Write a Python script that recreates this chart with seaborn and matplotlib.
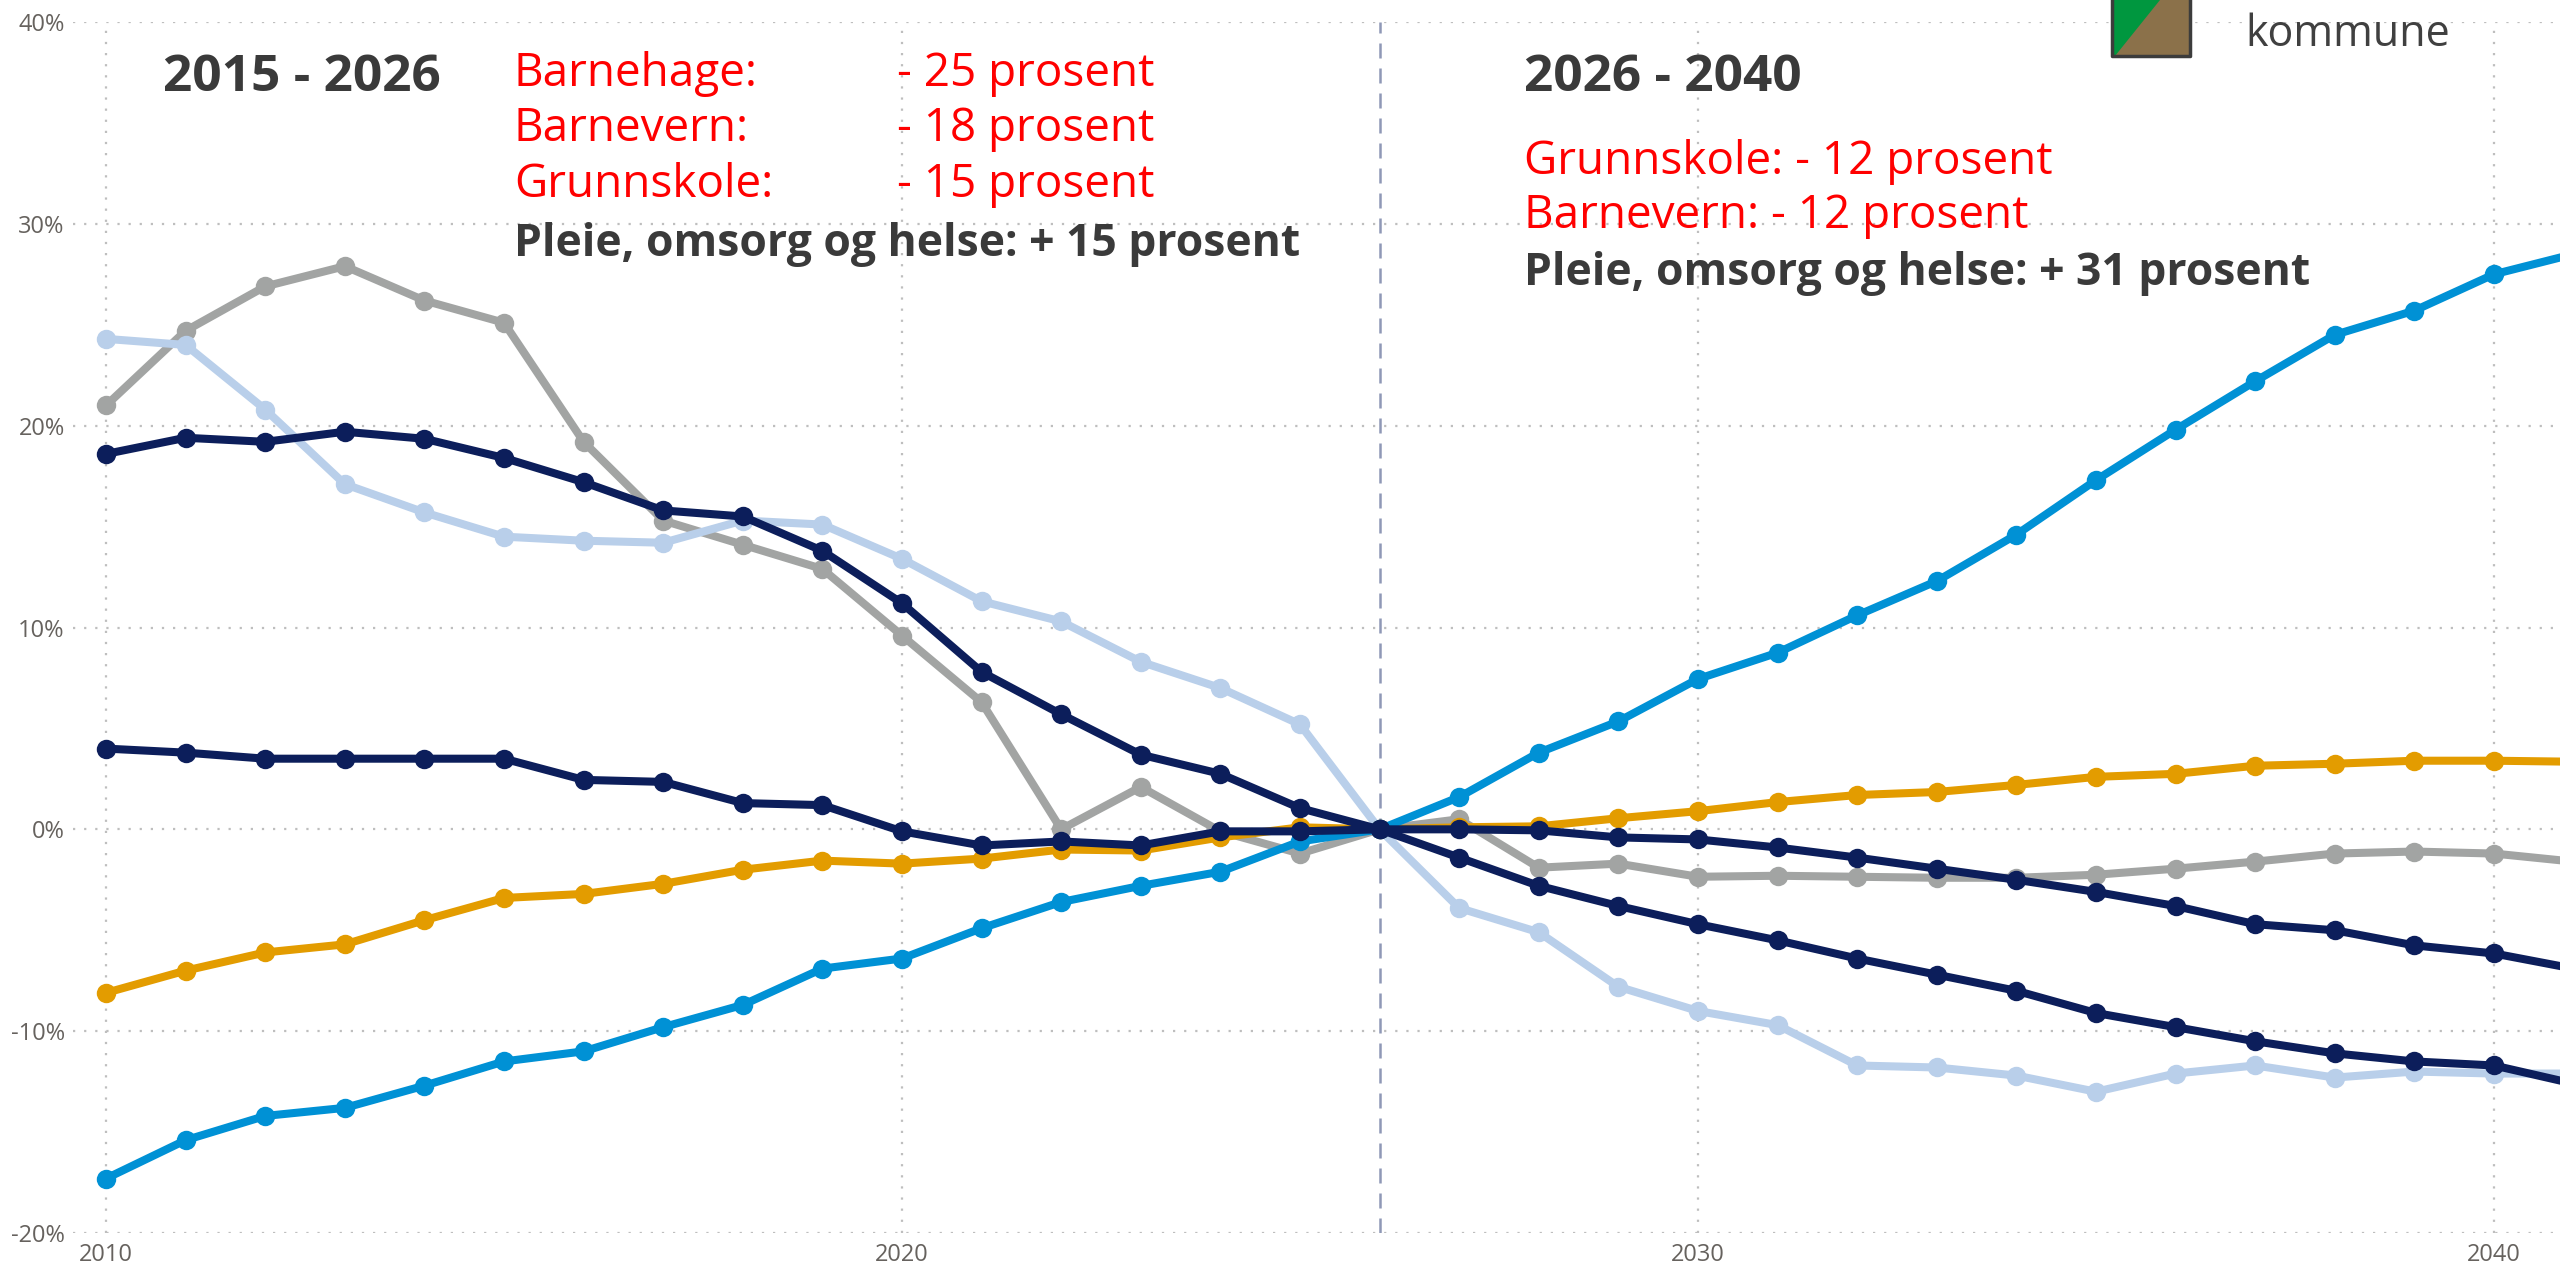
import matplotlib
matplotlib.use('Agg')
import numpy as np
import pandas as pd
import matplotlib.pyplot as plt
import seaborn as sns
from matplotlib.ticker import PercentFormatter, MultipleLocator
from matplotlib.patches import Polygon, Rectangle

# Data (prosent endring relativt til 2026), lest av figuren
aar = list(range(2010, 2042))

lysbla = [24.3, 24.0, 20.8, 17.1, 15.7, 14.5, 14.3, 14.2, 15.3, 15.1, 13.4, 11.3, 10.3, 8.3, 7.0, 5.2,
          0.0, -3.9, -5.1, -7.8, -9.0, -9.7, -11.7, -11.8, -12.2, -13.0, -12.1, -11.7, -12.3, -12.0, -12.1, -12.1]
graa = [21.0, 24.7, 26.9, 27.9, 26.2, 25.1, 19.2, 15.3, 14.1, 12.9, 9.6, 6.3, 0.0, 2.1, -0.1, -1.2,
        0.0, 0.5, -1.9, -1.7, -2.35, -2.3, -2.35, -2.4, -2.4, -2.25, -1.95, -1.6, -1.2, -1.1, -1.2, -1.6]
oransje = [-8.1, -7.0, -6.1, -5.7, -4.5, -3.4, -3.2, -2.7, -2.0, -1.55, -1.7, -1.45, -1.0, -1.05, -0.4, 0.1,
           0.0, 0.1, 0.15, 0.55, 0.9, 1.35, 1.7, 1.85, 2.2, 2.6, 2.75, 3.15, 3.25, 3.4, 3.4, 3.35]
bla = [-17.3, -15.4, -14.2, -13.8, -12.7, -11.5, -11.0, -9.8, -8.7, -6.9, -6.4, -4.9, -3.6, -2.8, -2.1, -0.6,
       0.0, 1.6, 3.8, 5.35, 7.45, 8.75, 10.6, 12.3, 14.6, 17.3, 19.8, 22.2, 24.5, 25.7, 27.5, 28.5]
marine_b = [4.0, 3.8, 3.5, 3.5, 3.5, 3.5, 2.45, 2.35, 1.3, 1.2, -0.1, -0.8, -0.6, -0.8, -0.1, -0.1,
            0.0, 0.0, -0.05, -0.4, -0.5, -0.9, -1.4, -1.95, -2.5, -3.1, -3.8, -4.7, -5.0, -5.75, -6.15, -6.9]
marine_a = [18.6, 19.4, 19.2, 19.7, 19.35, 18.4, 17.2, 15.8, 15.5, 13.8, 11.2, 7.8, 5.7, 3.7, 2.75, 1.05,
            0.0, -1.4, -2.8, -3.8, -4.7, -5.5, -6.4, -7.2, -8.0, -9.1, -9.8, -10.5, -11.1, -11.5, -11.7, -12.6]

serier = {'graa': graa, 'lysbla': lysbla, 'oransje': oransje, 'bla': bla,
          'marine_b': marine_b, 'marine_a': marine_a}
farger = {'graa': '#A2A4A3', 'lysbla': '#B9CFEA', 'oransje': '#E39C00', 'bla': '#0091D5',
          'marine_b': '#0C1E5B', 'marine_a': '#0C1E5B'}

df = pd.concat([pd.DataFrame({'aar': aar, 'endring': np.array(v) / 100, 'serie': k})
                for k, v in serier.items()])

sns.set_theme(style='white')
plt.rcParams['font.family'] = ['Open Sans', 'DejaVu Sans']
plt.rcParams['axes.unicode_minus'] = False

W, H = 2560, 1274
fig = plt.figure(figsize=(W / 100, H / 100), dpi=100)
ax = fig.add_axes([73 / W, (H - 1233) / H, (W - 73) / W, (1233 - 22) / H])

sns.lineplot(data=df, x='aar', y='endring', hue='serie', hue_order=list(serier.keys()),
             palette=farger, marker='o', markersize=14, markeredgewidth=0,
             linewidth=5.8, legend=False, ax=ax)

# vertikal stiplet linje ved 2026
ax.axvline(2026, color='#8F98B6', linestyle=(0, (6, 4)), linewidth=1.8, zorder=1)

ax.set_xlim(2009.585, 2040.83)
ax.set_ylim(-0.2, 0.4)
ax.xaxis.set_major_locator(MultipleLocator(10))
ax.yaxis.set_major_locator(MultipleLocator(0.1))
ax.yaxis.set_major_formatter(PercentFormatter(1.0, decimals=0))
ax.set_xlabel('')
ax.set_ylabel('')
ax.grid(True, color='#BEBEBE', linestyle=(0, (1, 4)), linewidth=1.6)
ax.set_axisbelow(True)
for s in ax.spines.values():
    s.set_visible(False)
ax.tick_params(axis='both', length=0, labelsize=17, labelcolor='#66625E')
ax.tick_params(axis='y', pad=6)
ax.tick_params(axis='x', pad=7)


def ftekst(x, y, s, **kw):
    fig.text(x / W, 1 - y / H, s, va='baseline', ha='left', **kw)


rod = '#FF0000'
mork = '#3A3A3A'

# venstre tekstblokk
ftekst(163, 91, '2015 - 2026', fontsize=37, fontweight='bold', color=mork)
for y, navn, verdi in [(86, 'Barnehage:', '- 25 prosent'),
                       (141, 'Barnevern:', '- 18 prosent'),
                       (197, 'Grunnskole:', '- 15 prosent')]:
    ftekst(514, y, navn, fontsize=33, color=rod)
    ftekst(897, y, verdi, fontsize=33, color=rod)
ftekst(514, 256, 'Pleie, omsorg og helse: + 15 prosent', fontsize=32, fontweight='bold', color=mork)

# høyre tekstblokk
ftekst(1524, 91, '2026 - 2040', fontsize=37, fontweight='bold', color=mork)
ftekst(1524, 174, 'Grunnskole: - 12 prosent', fontsize=33, color=rod)
ftekst(1524, 228, 'Barnevern: - 12 prosent', fontsize=33, color=rod)
ftekst(1524, 285, 'Pleie, omsorg og helse: + 31 prosent', fontsize=32, fontweight='bold', color=mork)

# logo (avkuttet øverst)
def fp(x, y):
    return (x / W, 1 - y / H)

fig.patches.append(Rectangle(fp(2112, 56), 78 / W, 80 / H, transform=fig.transFigure,
                             facecolor='#8B714A', edgecolor='none'))
fig.patches.append(Polygon([fp(2112, 56), fp(2115, 56), fp(2164, -5), fp(2112, -5)], closed=True,
                           transform=fig.transFigure, facecolor='#00973F', edgecolor='none'))
fig.patches.append(Polygon([fp(2112, -5), fp(2112, 56), fp(2190, 56), fp(2190, -5)], closed=False,
                           transform=fig.transFigure, fill=False, edgecolor='#3C3C3C', linewidth=2.5,
                           joinstyle='round'))
ftekst(2245, 46, 'kommune', fontsize=31, color='#404040')

fig.savefig('out.png', dpi=100, facecolor='white')
